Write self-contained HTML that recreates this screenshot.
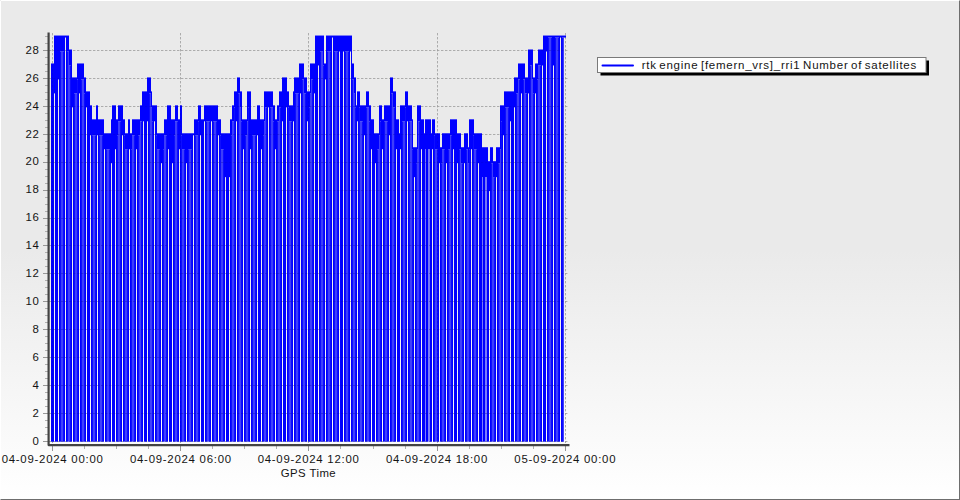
<!DOCTYPE html>
<html><head><meta charset="utf-8"><title>chart</title>
<style>
html,body{margin:0;padding:0;background:#fff;}
body{width:960px;height:500px;overflow:hidden;position:relative;font-family:"Liberation Sans",sans-serif;}
#bg{position:absolute;left:0;top:0;width:960px;height:500px;box-sizing:border-box;
 background:linear-gradient(to bottom,#eaeaea 0%,#eaeaea 50%,#ffffff 100%);
 border-top:1px solid #fff;border-left:1px solid #fff;border-right:1px solid #6e6e6e;border-bottom:1px solid #6e6e6e;}
svg{position:absolute;left:0;top:0;}
text{font-family:"Liberation Sans",sans-serif;font-size:11.4px;fill:#141414;letter-spacing:0.75px;}
.lg{letter-spacing:0px;font-size:11.5px;word-spacing:-1.3px;}
</style></head><body>
<div id="bg"></div><div style="position:absolute;left:0;top:0;width:1px;height:1px;background:#eee"></div>
<svg width="960" height="500" viewBox="0 0 960 500">
<g stroke="#bababa" stroke-width="1" stroke-dasharray="2.4 1.6" stroke-dashoffset="0" fill="none"><line x1="49" y1="441.5" x2="568" y2="441.5"/><line x1="49" y1="413.5" x2="568" y2="413.5"/><line x1="49" y1="385.5" x2="568" y2="385.5"/><line x1="49" y1="357.5" x2="568" y2="357.5"/><line x1="49" y1="329.5" x2="568" y2="329.5"/><line x1="49" y1="301.5" x2="568" y2="301.5"/><line x1="49" y1="273.5" x2="568" y2="273.5"/><line x1="49" y1="245.5" x2="568" y2="245.5"/><line x1="49" y1="218.5" x2="568" y2="218.5"/><line x1="49" y1="190.5" x2="568" y2="190.5"/><line x1="49" y1="162.5" x2="568" y2="162.5"/><line x1="49" y1="134.5" x2="568" y2="134.5"/><line x1="49" y1="106.5" x2="568" y2="106.5"/><line x1="49" y1="78.5" x2="568" y2="78.5"/><line x1="49" y1="50.5" x2="568" y2="50.5"/><line x1="52.5" y1="33" x2="52.5" y2="443"/><line x1="180.5" y1="33" x2="180.5" y2="443"/><line x1="308.5" y1="33" x2="308.5" y2="443"/><line x1="437.5" y1="33" x2="437.5" y2="443"/><line x1="565.5" y1="33" x2="565.5" y2="443"/></g>
<g id="series"><rect x="51" y="63.46" width="3" height="378.24" fill="#0000ff"/><rect x="54" y="35.54" width="1" height="57.85" fill="#0000ff"/><rect x="55" y="35.54" width="3" height="406.16" fill="#0000ff"/><rect x="58" y="35.54" width="1" height="43.88" fill="#0000ff"/><rect x="59" y="35.54" width="1" height="406.16" fill="#0000ff"/><rect x="60" y="35.54" width="1" height="15.96" fill="#0000ff"/><rect x="60" y="51.50" width="1" height="390.20" fill="#0000ff" fill-opacity="0.94"/><rect x="61" y="35.54" width="1" height="15.96" fill="#0000ff"/><rect x="61" y="51.50" width="1" height="390.20" fill="#0000ff" fill-opacity="0.74"/><rect x="62" y="35.54" width="1" height="15.96" fill="#0000ff"/><rect x="62" y="51.50" width="1" height="390.20" fill="#0000ff" fill-opacity="0.74"/><rect x="63" y="35.54" width="1" height="15.96" fill="#0000ff"/><rect x="63" y="51.50" width="1" height="390.20" fill="#0000ff" fill-opacity="0.94"/><rect x="64" y="35.54" width="1" height="406.16" fill="#0000ff"/><rect x="65" y="35.54" width="1" height="2.00" fill="#0000ff"/><rect x="66" y="35.54" width="1" height="406.16" fill="#0000ff"/><rect x="67" y="35.54" width="1" height="15.96" fill="#0000ff"/><rect x="67" y="51.50" width="1" height="390.20" fill="#0000ff" fill-opacity="0.94"/><rect x="68" y="35.54" width="1" height="15.96" fill="#0000ff"/><rect x="68" y="51.50" width="1" height="390.20" fill="#0000ff" fill-opacity="0.74"/><rect x="69" y="49.50" width="1" height="15.96" fill="#0000ff"/><rect x="69" y="65.46" width="1" height="376.24" fill="#0000ff" fill-opacity="0.74"/><rect x="70" y="49.50" width="1" height="15.96" fill="#0000ff"/><rect x="70" y="65.46" width="1" height="376.24" fill="#0000ff" fill-opacity="0.94"/><rect x="71" y="49.50" width="1" height="392.20" fill="#0000ff"/><rect x="72" y="77.42" width="1" height="29.92" fill="#0000ff"/><rect x="73" y="77.42" width="1" height="364.28" fill="#0000ff"/><rect x="74" y="77.42" width="1" height="15.96" fill="#0000ff"/><rect x="74" y="93.38" width="1" height="348.32" fill="#0000ff" fill-opacity="0.94"/><rect x="75" y="77.42" width="1" height="15.96" fill="#0000ff"/><rect x="75" y="93.38" width="1" height="348.32" fill="#0000ff" fill-opacity="0.74"/><rect x="76" y="77.42" width="1" height="15.96" fill="#0000ff"/><rect x="76" y="93.38" width="1" height="348.32" fill="#0000ff" fill-opacity="0.74"/><rect x="77" y="63.46" width="1" height="15.96" fill="#0000ff"/><rect x="77" y="79.42" width="1" height="362.28" fill="#0000ff" fill-opacity="0.94"/><rect x="78" y="63.46" width="1" height="378.24" fill="#0000ff"/><rect x="79" y="63.46" width="1" height="29.92" fill="#0000ff"/><rect x="80" y="63.46" width="1" height="378.24" fill="#0000ff"/><rect x="81" y="63.46" width="1" height="15.96" fill="#0000ff"/><rect x="81" y="79.42" width="1" height="362.28" fill="#0000ff" fill-opacity="0.94"/><rect x="82" y="63.46" width="1" height="15.96" fill="#0000ff"/><rect x="82" y="79.42" width="1" height="362.28" fill="#0000ff" fill-opacity="0.74"/><rect x="83" y="63.46" width="1" height="15.96" fill="#0000ff"/><rect x="83" y="79.42" width="1" height="362.28" fill="#0000ff" fill-opacity="0.74"/><rect x="84" y="77.42" width="1" height="15.96" fill="#0000ff"/><rect x="84" y="93.38" width="1" height="348.32" fill="#0000ff" fill-opacity="0.94"/><rect x="85" y="77.42" width="1" height="364.28" fill="#0000ff"/><rect x="86" y="91.38" width="1" height="15.96" fill="#0000ff"/><rect x="87" y="91.38" width="3" height="350.32" fill="#0000ff"/><rect x="90" y="105.34" width="1" height="29.92" fill="#0000ff"/><rect x="91" y="105.34" width="1" height="336.36" fill="#0000ff"/><rect x="92" y="119.31" width="1" height="15.96" fill="#0000ff"/><rect x="92" y="135.27" width="1" height="306.43" fill="#0000ff" fill-opacity="0.94"/><rect x="93" y="119.31" width="1" height="15.96" fill="#0000ff"/><rect x="93" y="135.27" width="1" height="306.43" fill="#0000ff" fill-opacity="0.74"/><rect x="94" y="119.31" width="1" height="15.96" fill="#0000ff"/><rect x="94" y="135.27" width="1" height="306.43" fill="#0000ff" fill-opacity="0.74"/><rect x="95" y="119.31" width="1" height="15.96" fill="#0000ff"/><rect x="95" y="135.27" width="1" height="306.43" fill="#0000ff" fill-opacity="0.94"/><rect x="96" y="105.34" width="1" height="336.36" fill="#0000ff"/><rect x="97" y="105.34" width="1" height="29.92" fill="#0000ff"/><rect x="98" y="119.31" width="1" height="322.39" fill="#0000ff"/><rect x="99" y="119.31" width="1" height="15.96" fill="#0000ff"/><rect x="99" y="135.27" width="1" height="306.43" fill="#0000ff" fill-opacity="0.94"/><rect x="100" y="119.31" width="1" height="15.96" fill="#0000ff"/><rect x="100" y="135.27" width="1" height="306.43" fill="#0000ff" fill-opacity="0.74"/><rect x="101" y="119.31" width="1" height="15.96" fill="#0000ff"/><rect x="101" y="135.27" width="1" height="306.43" fill="#0000ff" fill-opacity="0.74"/><rect x="102" y="119.31" width="1" height="15.96" fill="#0000ff"/><rect x="102" y="135.27" width="1" height="306.43" fill="#0000ff" fill-opacity="0.94"/><rect x="103" y="119.31" width="1" height="322.39" fill="#0000ff"/><rect x="104" y="133.27" width="1" height="15.96" fill="#0000ff"/><rect x="105" y="133.27" width="1" height="308.43" fill="#0000ff"/><rect x="106" y="133.27" width="1" height="15.96" fill="#0000ff"/><rect x="106" y="149.23" width="1" height="292.47" fill="#0000ff" fill-opacity="0.94"/><rect x="107" y="133.27" width="1" height="15.96" fill="#0000ff"/><rect x="107" y="149.23" width="1" height="292.47" fill="#0000ff" fill-opacity="0.74"/><rect x="108" y="133.27" width="1" height="15.96" fill="#0000ff"/><rect x="108" y="149.23" width="1" height="292.47" fill="#0000ff" fill-opacity="0.74"/><rect x="109" y="133.27" width="1" height="15.96" fill="#0000ff"/><rect x="109" y="149.23" width="1" height="292.47" fill="#0000ff" fill-opacity="0.94"/><rect x="110" y="133.27" width="1" height="308.43" fill="#0000ff"/><rect x="111" y="119.31" width="1" height="43.88" fill="#0000ff"/><rect x="112" y="105.34" width="3" height="336.36" fill="#0000ff"/><rect x="115" y="105.34" width="1" height="43.88" fill="#0000ff"/><rect x="116" y="119.31" width="1" height="322.39" fill="#0000ff"/><rect x="117" y="119.31" width="1" height="15.96" fill="#0000ff"/><rect x="117" y="135.27" width="1" height="306.43" fill="#0000ff" fill-opacity="0.94"/><rect x="118" y="105.34" width="1" height="15.96" fill="#0000ff"/><rect x="118" y="121.31" width="1" height="320.39" fill="#0000ff" fill-opacity="0.74"/><rect x="119" y="105.34" width="1" height="15.96" fill="#0000ff"/><rect x="119" y="121.31" width="1" height="320.39" fill="#0000ff" fill-opacity="0.74"/><rect x="120" y="105.34" width="1" height="15.96" fill="#0000ff"/><rect x="120" y="121.31" width="1" height="320.39" fill="#0000ff" fill-opacity="0.94"/><rect x="121" y="105.34" width="1" height="336.36" fill="#0000ff"/><rect x="122" y="105.34" width="1" height="29.92" fill="#0000ff"/><rect x="123" y="119.31" width="1" height="322.39" fill="#0000ff"/><rect x="124" y="119.31" width="1" height="15.96" fill="#0000ff"/><rect x="124" y="135.27" width="1" height="306.43" fill="#0000ff" fill-opacity="0.94"/><rect x="125" y="133.27" width="1" height="15.96" fill="#0000ff"/><rect x="125" y="149.23" width="1" height="292.47" fill="#0000ff" fill-opacity="0.74"/><rect x="126" y="133.27" width="1" height="15.96" fill="#0000ff"/><rect x="126" y="149.23" width="1" height="292.47" fill="#0000ff" fill-opacity="0.74"/><rect x="127" y="133.27" width="1" height="15.96" fill="#0000ff"/><rect x="127" y="149.23" width="1" height="292.47" fill="#0000ff" fill-opacity="0.94"/><rect x="128" y="119.31" width="1" height="322.39" fill="#0000ff"/><rect x="129" y="119.31" width="1" height="29.92" fill="#0000ff"/><rect x="130" y="133.27" width="1" height="308.43" fill="#0000ff"/><rect x="131" y="133.27" width="1" height="15.96" fill="#0000ff"/><rect x="131" y="149.23" width="1" height="292.47" fill="#0000ff" fill-opacity="0.94"/><rect x="132" y="119.31" width="1" height="15.96" fill="#0000ff"/><rect x="132" y="135.27" width="1" height="306.43" fill="#0000ff" fill-opacity="0.74"/><rect x="133" y="119.31" width="1" height="15.96" fill="#0000ff"/><rect x="133" y="135.27" width="1" height="306.43" fill="#0000ff" fill-opacity="0.74"/><rect x="134" y="119.31" width="1" height="15.96" fill="#0000ff"/><rect x="134" y="135.27" width="1" height="306.43" fill="#0000ff" fill-opacity="0.94"/><rect x="135" y="119.31" width="1" height="322.39" fill="#0000ff"/><rect x="136" y="119.31" width="1" height="29.92" fill="#0000ff"/><rect x="137" y="119.31" width="1" height="322.39" fill="#0000ff"/><rect x="138" y="119.31" width="1" height="15.96" fill="#0000ff"/><rect x="138" y="135.27" width="1" height="306.43" fill="#0000ff" fill-opacity="0.94"/><rect x="139" y="119.31" width="1" height="15.96" fill="#0000ff"/><rect x="139" y="135.27" width="1" height="306.43" fill="#0000ff" fill-opacity="0.74"/><rect x="140" y="105.34" width="1" height="15.96" fill="#0000ff"/><rect x="140" y="121.31" width="1" height="320.39" fill="#0000ff" fill-opacity="0.74"/><rect x="141" y="105.34" width="1" height="15.96" fill="#0000ff"/><rect x="141" y="121.31" width="1" height="320.39" fill="#0000ff" fill-opacity="0.94"/><rect x="142" y="91.38" width="1" height="350.32" fill="#0000ff"/><rect x="143" y="91.38" width="1" height="29.92" fill="#0000ff"/><rect x="144" y="91.38" width="3" height="350.32" fill="#0000ff"/><rect x="147" y="77.42" width="1" height="43.88" fill="#0000ff"/><rect x="148" y="77.42" width="1" height="364.28" fill="#0000ff"/><rect x="149" y="77.42" width="1" height="15.96" fill="#0000ff"/><rect x="149" y="93.38" width="1" height="348.32" fill="#0000ff" fill-opacity="0.94"/><rect x="150" y="77.42" width="1" height="15.96" fill="#0000ff"/><rect x="150" y="93.38" width="1" height="348.32" fill="#0000ff" fill-opacity="0.74"/><rect x="151" y="91.38" width="1" height="15.96" fill="#0000ff"/><rect x="151" y="107.34" width="1" height="334.36" fill="#0000ff" fill-opacity="0.74"/><rect x="152" y="105.34" width="1" height="15.96" fill="#0000ff"/><rect x="152" y="121.31" width="1" height="320.39" fill="#0000ff" fill-opacity="0.94"/><rect x="153" y="105.34" width="1" height="336.36" fill="#0000ff"/><rect x="154" y="105.34" width="1" height="15.96" fill="#0000ff"/><rect x="155" y="105.34" width="1" height="336.36" fill="#0000ff"/><rect x="156" y="105.34" width="1" height="29.92" fill="#0000ff"/><rect x="156" y="135.27" width="1" height="306.43" fill="#0000ff" fill-opacity="0.94"/><rect x="157" y="133.27" width="1" height="15.96" fill="#0000ff"/><rect x="157" y="149.23" width="1" height="292.47" fill="#0000ff" fill-opacity="0.74"/><rect x="158" y="133.27" width="1" height="15.96" fill="#0000ff"/><rect x="158" y="149.23" width="1" height="292.47" fill="#0000ff" fill-opacity="0.74"/><rect x="159" y="133.27" width="1" height="15.96" fill="#0000ff"/><rect x="159" y="149.23" width="1" height="292.47" fill="#0000ff" fill-opacity="0.94"/><rect x="160" y="133.27" width="1" height="308.43" fill="#0000ff"/><rect x="161" y="133.27" width="1" height="29.92" fill="#0000ff"/><rect x="162" y="133.27" width="1" height="308.43" fill="#0000ff"/><rect x="163" y="133.27" width="1" height="15.96" fill="#0000ff"/><rect x="163" y="149.23" width="1" height="292.47" fill="#0000ff" fill-opacity="0.94"/><rect x="164" y="119.31" width="1" height="15.96" fill="#0000ff"/><rect x="164" y="135.27" width="1" height="306.43" fill="#0000ff" fill-opacity="0.74"/><rect x="165" y="119.31" width="1" height="15.96" fill="#0000ff"/><rect x="165" y="135.27" width="1" height="306.43" fill="#0000ff" fill-opacity="0.74"/><rect x="166" y="119.31" width="1" height="15.96" fill="#0000ff"/><rect x="166" y="135.27" width="1" height="306.43" fill="#0000ff" fill-opacity="0.94"/><rect x="167" y="105.34" width="1" height="336.36" fill="#0000ff"/><rect x="168" y="105.34" width="1" height="43.88" fill="#0000ff"/><rect x="169" y="105.34" width="2" height="336.36" fill="#0000ff"/><rect x="171" y="119.31" width="1" height="322.39" fill="#0000ff"/><rect x="172" y="119.31" width="1" height="43.88" fill="#0000ff"/><rect x="173" y="119.31" width="1" height="322.39" fill="#0000ff"/><rect x="174" y="119.31" width="1" height="15.96" fill="#0000ff"/><rect x="174" y="135.27" width="1" height="306.43" fill="#0000ff" fill-opacity="0.94"/><rect x="175" y="105.34" width="1" height="15.96" fill="#0000ff"/><rect x="175" y="121.31" width="1" height="320.39" fill="#0000ff" fill-opacity="0.74"/><rect x="176" y="105.34" width="1" height="15.96" fill="#0000ff"/><rect x="176" y="121.31" width="1" height="320.39" fill="#0000ff" fill-opacity="0.74"/><rect x="177" y="105.34" width="1" height="15.96" fill="#0000ff"/><rect x="177" y="121.31" width="1" height="320.39" fill="#0000ff" fill-opacity="0.94"/><rect x="178" y="119.31" width="1" height="322.39" fill="#0000ff"/><rect x="179" y="119.31" width="1" height="29.92" fill="#0000ff"/><rect x="180" y="105.34" width="1" height="336.36" fill="#0000ff"/><rect x="181" y="105.34" width="1" height="29.92" fill="#0000ff"/><rect x="181" y="135.27" width="1" height="306.43" fill="#0000ff" fill-opacity="0.94"/><rect x="182" y="133.27" width="1" height="15.96" fill="#0000ff"/><rect x="182" y="149.23" width="1" height="292.47" fill="#0000ff" fill-opacity="0.74"/><rect x="183" y="133.27" width="1" height="15.96" fill="#0000ff"/><rect x="183" y="149.23" width="1" height="292.47" fill="#0000ff" fill-opacity="0.74"/><rect x="184" y="133.27" width="1" height="15.96" fill="#0000ff"/><rect x="184" y="149.23" width="1" height="292.47" fill="#0000ff" fill-opacity="0.94"/><rect x="185" y="133.27" width="1" height="308.43" fill="#0000ff"/><rect x="186" y="133.27" width="1" height="29.92" fill="#0000ff"/><rect x="187" y="133.27" width="1" height="308.43" fill="#0000ff"/><rect x="188" y="133.27" width="1" height="15.96" fill="#0000ff"/><rect x="188" y="149.23" width="1" height="292.47" fill="#0000ff" fill-opacity="0.94"/><rect x="189" y="133.27" width="1" height="15.96" fill="#0000ff"/><rect x="189" y="149.23" width="1" height="292.47" fill="#0000ff" fill-opacity="0.74"/><rect x="190" y="133.27" width="1" height="15.96" fill="#0000ff"/><rect x="190" y="149.23" width="1" height="292.47" fill="#0000ff" fill-opacity="0.74"/><rect x="191" y="133.27" width="1" height="15.96" fill="#0000ff"/><rect x="191" y="149.23" width="1" height="292.47" fill="#0000ff" fill-opacity="0.94"/><rect x="192" y="133.27" width="1" height="308.43" fill="#0000ff"/><rect x="193" y="133.27" width="1" height="2.00" fill="#0000ff"/><rect x="194" y="119.31" width="1" height="322.39" fill="#0000ff"/><rect x="195" y="119.31" width="1" height="15.96" fill="#0000ff"/><rect x="195" y="135.27" width="1" height="306.43" fill="#0000ff" fill-opacity="0.94"/><rect x="196" y="119.31" width="1" height="15.96" fill="#0000ff"/><rect x="196" y="135.27" width="1" height="306.43" fill="#0000ff" fill-opacity="0.74"/><rect x="197" y="119.31" width="1" height="15.96" fill="#0000ff"/><rect x="197" y="135.27" width="1" height="306.43" fill="#0000ff" fill-opacity="0.74"/><rect x="198" y="105.34" width="1" height="15.96" fill="#0000ff"/><rect x="198" y="121.31" width="1" height="320.39" fill="#0000ff" fill-opacity="0.94"/><rect x="199" y="105.34" width="1" height="336.36" fill="#0000ff"/><rect x="200" y="105.34" width="1" height="29.92" fill="#0000ff"/><rect x="201" y="119.31" width="3" height="322.39" fill="#0000ff"/><rect x="204" y="105.34" width="1" height="15.96" fill="#0000ff"/><rect x="205" y="105.34" width="1" height="336.36" fill="#0000ff"/><rect x="206" y="105.34" width="1" height="15.96" fill="#0000ff"/><rect x="206" y="121.31" width="1" height="320.39" fill="#0000ff" fill-opacity="0.94"/><rect x="207" y="105.34" width="1" height="15.96" fill="#0000ff"/><rect x="207" y="121.31" width="1" height="320.39" fill="#0000ff" fill-opacity="0.74"/><rect x="208" y="105.34" width="1" height="15.96" fill="#0000ff"/><rect x="208" y="121.31" width="1" height="320.39" fill="#0000ff" fill-opacity="0.74"/><rect x="209" y="105.34" width="1" height="15.96" fill="#0000ff"/><rect x="209" y="121.31" width="1" height="320.39" fill="#0000ff" fill-opacity="0.94"/><rect x="210" y="105.34" width="1" height="336.36" fill="#0000ff"/><rect x="211" y="105.34" width="1" height="15.96" fill="#0000ff"/><rect x="212" y="105.34" width="1" height="336.36" fill="#0000ff"/><rect x="213" y="105.34" width="1" height="15.96" fill="#0000ff"/><rect x="213" y="121.31" width="1" height="320.39" fill="#0000ff" fill-opacity="0.94"/><rect x="214" y="105.34" width="1" height="15.96" fill="#0000ff"/><rect x="214" y="121.31" width="1" height="320.39" fill="#0000ff" fill-opacity="0.74"/><rect x="215" y="105.34" width="1" height="15.96" fill="#0000ff"/><rect x="215" y="121.31" width="1" height="320.39" fill="#0000ff" fill-opacity="0.74"/><rect x="216" y="105.34" width="1" height="15.96" fill="#0000ff"/><rect x="216" y="121.31" width="1" height="320.39" fill="#0000ff" fill-opacity="0.94"/><rect x="217" y="105.34" width="1" height="336.36" fill="#0000ff"/><rect x="218" y="119.31" width="1" height="15.96" fill="#0000ff"/><rect x="219" y="119.31" width="1" height="322.39" fill="#0000ff"/><rect x="220" y="119.31" width="1" height="15.96" fill="#0000ff"/><rect x="220" y="135.27" width="1" height="306.43" fill="#0000ff" fill-opacity="0.94"/><rect x="221" y="133.27" width="1" height="15.96" fill="#0000ff"/><rect x="221" y="149.23" width="1" height="292.47" fill="#0000ff" fill-opacity="0.74"/><rect x="222" y="133.27" width="1" height="15.96" fill="#0000ff"/><rect x="222" y="149.23" width="1" height="292.47" fill="#0000ff" fill-opacity="0.74"/><rect x="223" y="133.27" width="1" height="15.96" fill="#0000ff"/><rect x="223" y="149.23" width="1" height="292.47" fill="#0000ff" fill-opacity="0.94"/><rect x="224" y="133.27" width="1" height="308.43" fill="#0000ff"/><rect x="225" y="133.27" width="1" height="43.88" fill="#0000ff"/><rect x="226" y="133.27" width="3" height="308.43" fill="#0000ff"/><rect x="229" y="133.27" width="1" height="43.88" fill="#0000ff"/><rect x="230" y="119.31" width="1" height="322.39" fill="#0000ff"/><rect x="231" y="119.31" width="1" height="15.96" fill="#0000ff"/><rect x="231" y="135.27" width="1" height="306.43" fill="#0000ff" fill-opacity="0.94"/><rect x="232" y="105.34" width="1" height="15.96" fill="#0000ff"/><rect x="232" y="121.31" width="1" height="320.39" fill="#0000ff" fill-opacity="0.74"/><rect x="233" y="105.34" width="1" height="15.96" fill="#0000ff"/><rect x="233" y="121.31" width="1" height="320.39" fill="#0000ff" fill-opacity="0.74"/><rect x="234" y="91.38" width="1" height="15.96" fill="#0000ff"/><rect x="234" y="107.34" width="1" height="334.36" fill="#0000ff" fill-opacity="0.94"/><rect x="235" y="91.38" width="1" height="350.32" fill="#0000ff"/><rect x="236" y="91.38" width="1" height="29.92" fill="#0000ff"/><rect x="237" y="77.42" width="1" height="364.28" fill="#0000ff"/><rect x="238" y="77.42" width="1" height="15.96" fill="#0000ff"/><rect x="238" y="93.38" width="1" height="348.32" fill="#0000ff" fill-opacity="0.94"/><rect x="239" y="77.42" width="1" height="15.96" fill="#0000ff"/><rect x="239" y="93.38" width="1" height="348.32" fill="#0000ff" fill-opacity="0.74"/><rect x="240" y="91.38" width="1" height="15.96" fill="#0000ff"/><rect x="240" y="107.34" width="1" height="334.36" fill="#0000ff" fill-opacity="0.74"/><rect x="241" y="91.38" width="1" height="29.92" fill="#0000ff"/><rect x="241" y="121.31" width="1" height="320.39" fill="#0000ff" fill-opacity="0.94"/><rect x="242" y="119.31" width="1" height="322.39" fill="#0000ff"/><rect x="243" y="119.31" width="1" height="29.92" fill="#0000ff"/><rect x="244" y="119.31" width="1" height="322.39" fill="#0000ff"/><rect x="245" y="119.31" width="1" height="15.96" fill="#0000ff"/><rect x="245" y="135.27" width="1" height="306.43" fill="#0000ff" fill-opacity="0.94"/><rect x="246" y="119.31" width="1" height="15.96" fill="#0000ff"/><rect x="246" y="135.27" width="1" height="306.43" fill="#0000ff" fill-opacity="0.74"/><rect x="247" y="91.38" width="1" height="29.92" fill="#0000ff"/><rect x="247" y="121.31" width="1" height="320.39" fill="#0000ff" fill-opacity="0.74"/><rect x="248" y="91.38" width="1" height="15.96" fill="#0000ff"/><rect x="248" y="107.34" width="1" height="334.36" fill="#0000ff" fill-opacity="0.94"/><rect x="249" y="91.38" width="1" height="350.32" fill="#0000ff"/><rect x="250" y="91.38" width="1" height="57.85" fill="#0000ff"/><rect x="251" y="119.31" width="1" height="322.39" fill="#0000ff"/><rect x="252" y="119.31" width="1" height="15.96" fill="#0000ff"/><rect x="252" y="135.27" width="1" height="306.43" fill="#0000ff" fill-opacity="0.94"/><rect x="253" y="119.31" width="1" height="15.96" fill="#0000ff"/><rect x="253" y="135.27" width="1" height="306.43" fill="#0000ff" fill-opacity="0.74"/><rect x="254" y="119.31" width="1" height="15.96" fill="#0000ff"/><rect x="254" y="135.27" width="1" height="306.43" fill="#0000ff" fill-opacity="0.74"/><rect x="255" y="119.31" width="1" height="15.96" fill="#0000ff"/><rect x="255" y="135.27" width="1" height="306.43" fill="#0000ff" fill-opacity="0.94"/><rect x="256" y="119.31" width="1" height="322.39" fill="#0000ff"/><rect x="257" y="105.34" width="1" height="29.92" fill="#0000ff"/><rect x="258" y="105.34" width="2" height="336.36" fill="#0000ff"/><rect x="260" y="119.31" width="1" height="322.39" fill="#0000ff"/><rect x="261" y="119.31" width="1" height="29.92" fill="#0000ff"/><rect x="262" y="119.31" width="1" height="322.39" fill="#0000ff"/><rect x="263" y="119.31" width="1" height="15.96" fill="#0000ff"/><rect x="263" y="135.27" width="1" height="306.43" fill="#0000ff" fill-opacity="0.94"/><rect x="264" y="91.38" width="1" height="29.92" fill="#0000ff"/><rect x="264" y="121.31" width="1" height="320.39" fill="#0000ff" fill-opacity="0.74"/><rect x="265" y="91.38" width="1" height="15.96" fill="#0000ff"/><rect x="265" y="107.34" width="1" height="334.36" fill="#0000ff" fill-opacity="0.74"/><rect x="266" y="91.38" width="1" height="15.96" fill="#0000ff"/><rect x="266" y="107.34" width="1" height="334.36" fill="#0000ff" fill-opacity="0.94"/><rect x="267" y="91.38" width="1" height="350.32" fill="#0000ff"/><rect x="268" y="91.38" width="1" height="15.96" fill="#0000ff"/><rect x="269" y="91.38" width="1" height="350.32" fill="#0000ff"/><rect x="270" y="91.38" width="1" height="15.96" fill="#0000ff"/><rect x="270" y="107.34" width="1" height="334.36" fill="#0000ff" fill-opacity="0.94"/><rect x="271" y="91.38" width="1" height="15.96" fill="#0000ff"/><rect x="271" y="107.34" width="1" height="334.36" fill="#0000ff" fill-opacity="0.74"/><rect x="272" y="91.38" width="1" height="15.96" fill="#0000ff"/><rect x="272" y="107.34" width="1" height="334.36" fill="#0000ff" fill-opacity="0.74"/><rect x="273" y="105.34" width="1" height="15.96" fill="#0000ff"/><rect x="273" y="121.31" width="1" height="320.39" fill="#0000ff" fill-opacity="0.94"/><rect x="274" y="105.34" width="1" height="336.36" fill="#0000ff"/><rect x="275" y="119.31" width="1" height="29.92" fill="#0000ff"/><rect x="276" y="119.31" width="1" height="322.39" fill="#0000ff"/><rect x="277" y="105.34" width="1" height="15.96" fill="#0000ff"/><rect x="277" y="121.31" width="1" height="320.39" fill="#0000ff" fill-opacity="0.94"/><rect x="278" y="105.34" width="1" height="15.96" fill="#0000ff"/><rect x="278" y="121.31" width="1" height="320.39" fill="#0000ff" fill-opacity="0.74"/><rect x="279" y="91.38" width="1" height="15.96" fill="#0000ff"/><rect x="279" y="107.34" width="1" height="334.36" fill="#0000ff" fill-opacity="0.74"/><rect x="280" y="91.38" width="1" height="15.96" fill="#0000ff"/><rect x="280" y="107.34" width="1" height="334.36" fill="#0000ff" fill-opacity="0.94"/><rect x="281" y="91.38" width="1" height="350.32" fill="#0000ff"/><rect x="282" y="77.42" width="1" height="43.88" fill="#0000ff"/><rect x="283" y="77.42" width="3" height="364.28" fill="#0000ff"/><rect x="286" y="77.42" width="1" height="29.92" fill="#0000ff"/><rect x="287" y="91.38" width="1" height="350.32" fill="#0000ff"/><rect x="288" y="91.38" width="1" height="15.96" fill="#0000ff"/><rect x="288" y="107.34" width="1" height="334.36" fill="#0000ff" fill-opacity="0.94"/><rect x="289" y="105.34" width="1" height="15.96" fill="#0000ff"/><rect x="289" y="121.31" width="1" height="320.39" fill="#0000ff" fill-opacity="0.74"/><rect x="290" y="105.34" width="1" height="15.96" fill="#0000ff"/><rect x="290" y="121.31" width="1" height="320.39" fill="#0000ff" fill-opacity="0.74"/><rect x="291" y="105.34" width="1" height="15.96" fill="#0000ff"/><rect x="291" y="121.31" width="1" height="320.39" fill="#0000ff" fill-opacity="0.94"/><rect x="292" y="105.34" width="1" height="336.36" fill="#0000ff"/><rect x="293" y="91.38" width="1" height="29.92" fill="#0000ff"/><rect x="294" y="77.42" width="1" height="364.28" fill="#0000ff"/><rect x="295" y="77.42" width="1" height="15.96" fill="#0000ff"/><rect x="295" y="93.38" width="1" height="348.32" fill="#0000ff" fill-opacity="0.94"/><rect x="296" y="77.42" width="1" height="15.96" fill="#0000ff"/><rect x="296" y="93.38" width="1" height="348.32" fill="#0000ff" fill-opacity="0.74"/><rect x="297" y="77.42" width="1" height="15.96" fill="#0000ff"/><rect x="297" y="93.38" width="1" height="348.32" fill="#0000ff" fill-opacity="0.74"/><rect x="298" y="77.42" width="1" height="15.96" fill="#0000ff"/><rect x="298" y="93.38" width="1" height="348.32" fill="#0000ff" fill-opacity="0.94"/><rect x="299" y="63.46" width="1" height="378.24" fill="#0000ff"/><rect x="300" y="63.46" width="1" height="29.92" fill="#0000ff"/><rect x="301" y="63.46" width="1" height="378.24" fill="#0000ff"/><rect x="302" y="63.46" width="1" height="15.96" fill="#0000ff"/><rect x="302" y="79.42" width="1" height="362.28" fill="#0000ff" fill-opacity="0.94"/><rect x="303" y="63.46" width="1" height="15.96" fill="#0000ff"/><rect x="303" y="79.42" width="1" height="362.28" fill="#0000ff" fill-opacity="0.74"/><rect x="304" y="77.42" width="1" height="15.96" fill="#0000ff"/><rect x="304" y="93.38" width="1" height="348.32" fill="#0000ff" fill-opacity="0.74"/><rect x="305" y="77.42" width="1" height="15.96" fill="#0000ff"/><rect x="305" y="93.38" width="1" height="348.32" fill="#0000ff" fill-opacity="0.94"/><rect x="306" y="77.42" width="1" height="364.28" fill="#0000ff"/><rect x="307" y="91.38" width="1" height="29.92" fill="#0000ff"/><rect x="308" y="91.38" width="1" height="350.32" fill="#0000ff"/><rect x="309" y="91.38" width="1" height="15.96" fill="#0000ff"/><rect x="309" y="107.34" width="1" height="334.36" fill="#0000ff" fill-opacity="0.94"/><rect x="310" y="63.46" width="1" height="29.92" fill="#0000ff"/><rect x="310" y="93.38" width="1" height="348.32" fill="#0000ff" fill-opacity="0.74"/><rect x="311" y="63.46" width="1" height="15.96" fill="#0000ff"/><rect x="311" y="79.42" width="1" height="362.28" fill="#0000ff" fill-opacity="0.74"/><rect x="312" y="63.46" width="1" height="15.96" fill="#0000ff"/><rect x="312" y="79.42" width="1" height="362.28" fill="#0000ff" fill-opacity="0.94"/><rect x="313" y="63.46" width="1" height="378.24" fill="#0000ff"/><rect x="314" y="63.46" width="1" height="29.92" fill="#0000ff"/><rect x="315" y="35.54" width="3" height="406.16" fill="#0000ff"/><rect x="318" y="35.54" width="1" height="29.92" fill="#0000ff"/><rect x="319" y="35.54" width="1" height="406.16" fill="#0000ff"/><rect x="320" y="35.54" width="1" height="15.96" fill="#0000ff"/><rect x="320" y="51.50" width="1" height="390.20" fill="#0000ff" fill-opacity="0.94"/><rect x="321" y="35.54" width="1" height="15.96" fill="#0000ff"/><rect x="321" y="51.50" width="1" height="390.20" fill="#0000ff" fill-opacity="0.74"/><rect x="322" y="35.54" width="1" height="15.96" fill="#0000ff"/><rect x="322" y="51.50" width="1" height="390.20" fill="#0000ff" fill-opacity="0.74"/><rect x="323" y="35.54" width="1" height="29.92" fill="#0000ff"/><rect x="323" y="65.46" width="1" height="376.24" fill="#0000ff" fill-opacity="0.94"/><rect x="324" y="63.46" width="1" height="378.24" fill="#0000ff"/><rect x="325" y="63.46" width="1" height="15.96" fill="#0000ff"/><rect x="326" y="35.54" width="1" height="406.16" fill="#0000ff"/><rect x="327" y="35.54" width="1" height="15.96" fill="#0000ff"/><rect x="327" y="51.50" width="1" height="390.20" fill="#0000ff" fill-opacity="0.94"/><rect x="328" y="35.54" width="1" height="15.96" fill="#0000ff"/><rect x="328" y="51.50" width="1" height="390.20" fill="#0000ff" fill-opacity="0.74"/><rect x="329" y="35.54" width="1" height="15.96" fill="#0000ff"/><rect x="329" y="51.50" width="1" height="390.20" fill="#0000ff" fill-opacity="0.74"/><rect x="330" y="35.54" width="1" height="15.96" fill="#0000ff"/><rect x="330" y="51.50" width="1" height="390.20" fill="#0000ff" fill-opacity="0.94"/><rect x="331" y="35.54" width="1" height="406.16" fill="#0000ff"/><rect x="332" y="35.54" width="1" height="2.00" fill="#0000ff"/><rect x="333" y="35.54" width="1" height="406.16" fill="#0000ff"/><rect x="334" y="35.54" width="1" height="15.96" fill="#0000ff"/><rect x="334" y="51.50" width="1" height="390.20" fill="#0000ff" fill-opacity="0.94"/><rect x="335" y="35.54" width="1" height="15.96" fill="#0000ff"/><rect x="335" y="51.50" width="1" height="390.20" fill="#0000ff" fill-opacity="0.74"/><rect x="336" y="35.54" width="1" height="15.96" fill="#0000ff"/><rect x="336" y="51.50" width="1" height="390.20" fill="#0000ff" fill-opacity="0.74"/><rect x="337" y="35.54" width="1" height="15.96" fill="#0000ff"/><rect x="337" y="51.50" width="1" height="390.20" fill="#0000ff" fill-opacity="0.94"/><rect x="338" y="35.54" width="1" height="406.16" fill="#0000ff"/><rect x="339" y="35.54" width="1" height="15.96" fill="#0000ff"/><rect x="340" y="35.54" width="3" height="406.16" fill="#0000ff"/><rect x="343" y="35.54" width="1" height="15.96" fill="#0000ff"/><rect x="344" y="35.54" width="1" height="406.16" fill="#0000ff"/><rect x="345" y="35.54" width="1" height="15.96" fill="#0000ff"/><rect x="345" y="51.50" width="1" height="390.20" fill="#0000ff" fill-opacity="0.94"/><rect x="346" y="35.54" width="1" height="15.96" fill="#0000ff"/><rect x="346" y="51.50" width="1" height="390.20" fill="#0000ff" fill-opacity="0.74"/><rect x="347" y="35.54" width="1" height="15.96" fill="#0000ff"/><rect x="347" y="51.50" width="1" height="390.20" fill="#0000ff" fill-opacity="0.74"/><rect x="348" y="35.54" width="1" height="15.96" fill="#0000ff"/><rect x="348" y="51.50" width="1" height="390.20" fill="#0000ff" fill-opacity="0.94"/><rect x="349" y="35.54" width="1" height="406.16" fill="#0000ff"/><rect x="350" y="35.54" width="1" height="15.96" fill="#0000ff"/><rect x="351" y="35.54" width="1" height="406.16" fill="#0000ff"/><rect x="352" y="63.46" width="1" height="15.96" fill="#0000ff"/><rect x="352" y="79.42" width="1" height="362.28" fill="#0000ff" fill-opacity="0.94"/><rect x="353" y="63.46" width="1" height="15.96" fill="#0000ff"/><rect x="353" y="79.42" width="1" height="362.28" fill="#0000ff" fill-opacity="0.74"/><rect x="354" y="77.42" width="1" height="15.96" fill="#0000ff"/><rect x="354" y="93.38" width="1" height="348.32" fill="#0000ff" fill-opacity="0.74"/><rect x="355" y="77.42" width="1" height="29.92" fill="#0000ff"/><rect x="355" y="107.34" width="1" height="334.36" fill="#0000ff" fill-opacity="0.94"/><rect x="356" y="105.34" width="1" height="336.36" fill="#0000ff"/><rect x="357" y="91.38" width="1" height="29.92" fill="#0000ff"/><rect x="358" y="91.38" width="1" height="350.32" fill="#0000ff"/><rect x="359" y="91.38" width="1" height="15.96" fill="#0000ff"/><rect x="359" y="107.34" width="1" height="334.36" fill="#0000ff" fill-opacity="0.94"/><rect x="360" y="105.34" width="1" height="15.96" fill="#0000ff"/><rect x="360" y="121.31" width="1" height="320.39" fill="#0000ff" fill-opacity="0.74"/><rect x="361" y="105.34" width="1" height="15.96" fill="#0000ff"/><rect x="361" y="121.31" width="1" height="320.39" fill="#0000ff" fill-opacity="0.74"/><rect x="362" y="105.34" width="1" height="15.96" fill="#0000ff"/><rect x="362" y="121.31" width="1" height="320.39" fill="#0000ff" fill-opacity="0.94"/><rect x="363" y="105.34" width="1" height="336.36" fill="#0000ff"/><rect x="364" y="105.34" width="1" height="29.92" fill="#0000ff"/><rect x="365" y="105.34" width="1" height="336.36" fill="#0000ff"/><rect x="366" y="91.38" width="1" height="15.96" fill="#0000ff"/><rect x="366" y="107.34" width="1" height="334.36" fill="#0000ff" fill-opacity="0.94"/><rect x="367" y="91.38" width="1" height="15.96" fill="#0000ff"/><rect x="367" y="107.34" width="1" height="334.36" fill="#0000ff" fill-opacity="0.74"/><rect x="368" y="91.38" width="1" height="15.96" fill="#0000ff"/><rect x="368" y="107.34" width="1" height="334.36" fill="#0000ff" fill-opacity="0.74"/><rect x="369" y="105.34" width="1" height="15.96" fill="#0000ff"/><rect x="369" y="121.31" width="1" height="320.39" fill="#0000ff" fill-opacity="0.94"/><rect x="370" y="105.34" width="1" height="336.36" fill="#0000ff"/><rect x="371" y="119.31" width="1" height="29.92" fill="#0000ff"/><rect x="372" y="119.31" width="2" height="322.39" fill="#0000ff"/><rect x="374" y="133.27" width="1" height="308.43" fill="#0000ff"/><rect x="375" y="133.27" width="1" height="29.92" fill="#0000ff"/><rect x="376" y="133.27" width="1" height="308.43" fill="#0000ff"/><rect x="377" y="133.27" width="1" height="15.96" fill="#0000ff"/><rect x="377" y="149.23" width="1" height="292.47" fill="#0000ff" fill-opacity="0.94"/><rect x="378" y="133.27" width="1" height="15.96" fill="#0000ff"/><rect x="378" y="149.23" width="1" height="292.47" fill="#0000ff" fill-opacity="0.74"/><rect x="379" y="105.34" width="1" height="29.92" fill="#0000ff"/><rect x="379" y="135.27" width="1" height="306.43" fill="#0000ff" fill-opacity="0.74"/><rect x="380" y="105.34" width="1" height="15.96" fill="#0000ff"/><rect x="380" y="121.31" width="1" height="320.39" fill="#0000ff" fill-opacity="0.94"/><rect x="381" y="105.34" width="1" height="336.36" fill="#0000ff"/><rect x="382" y="119.31" width="1" height="29.92" fill="#0000ff"/><rect x="383" y="119.31" width="1" height="322.39" fill="#0000ff"/><rect x="384" y="105.34" width="1" height="15.96" fill="#0000ff"/><rect x="384" y="121.31" width="1" height="320.39" fill="#0000ff" fill-opacity="0.94"/><rect x="385" y="105.34" width="1" height="15.96" fill="#0000ff"/><rect x="385" y="121.31" width="1" height="320.39" fill="#0000ff" fill-opacity="0.74"/><rect x="386" y="105.34" width="1" height="15.96" fill="#0000ff"/><rect x="386" y="121.31" width="1" height="320.39" fill="#0000ff" fill-opacity="0.74"/><rect x="387" y="105.34" width="1" height="15.96" fill="#0000ff"/><rect x="387" y="121.31" width="1" height="320.39" fill="#0000ff" fill-opacity="0.94"/><rect x="388" y="105.34" width="1" height="336.36" fill="#0000ff"/><rect x="389" y="105.34" width="1" height="29.92" fill="#0000ff"/><rect x="390" y="77.42" width="1" height="364.28" fill="#0000ff"/><rect x="391" y="77.42" width="1" height="15.96" fill="#0000ff"/><rect x="391" y="93.38" width="1" height="348.32" fill="#0000ff" fill-opacity="0.94"/><rect x="392" y="77.42" width="1" height="15.96" fill="#0000ff"/><rect x="392" y="93.38" width="1" height="348.32" fill="#0000ff" fill-opacity="0.74"/><rect x="393" y="91.38" width="1" height="15.96" fill="#0000ff"/><rect x="393" y="107.34" width="1" height="334.36" fill="#0000ff" fill-opacity="0.74"/><rect x="394" y="91.38" width="1" height="15.96" fill="#0000ff"/><rect x="394" y="107.34" width="1" height="334.36" fill="#0000ff" fill-opacity="0.94"/><rect x="395" y="91.38" width="1" height="350.32" fill="#0000ff"/><rect x="396" y="119.31" width="1" height="29.92" fill="#0000ff"/><rect x="397" y="119.31" width="2" height="322.39" fill="#0000ff"/><rect x="399" y="133.27" width="1" height="308.43" fill="#0000ff"/><rect x="400" y="105.34" width="1" height="43.88" fill="#0000ff"/><rect x="401" y="105.34" width="1" height="336.36" fill="#0000ff"/><rect x="402" y="105.34" width="1" height="15.96" fill="#0000ff"/><rect x="402" y="121.31" width="1" height="320.39" fill="#0000ff" fill-opacity="0.94"/><rect x="403" y="105.34" width="1" height="15.96" fill="#0000ff"/><rect x="403" y="121.31" width="1" height="320.39" fill="#0000ff" fill-opacity="0.74"/><rect x="404" y="105.34" width="1" height="15.96" fill="#0000ff"/><rect x="404" y="121.31" width="1" height="320.39" fill="#0000ff" fill-opacity="0.74"/><rect x="405" y="91.38" width="1" height="15.96" fill="#0000ff"/><rect x="405" y="107.34" width="1" height="334.36" fill="#0000ff" fill-opacity="0.94"/><rect x="406" y="91.38" width="1" height="350.32" fill="#0000ff"/><rect x="407" y="91.38" width="1" height="29.92" fill="#0000ff"/><rect x="408" y="105.34" width="1" height="336.36" fill="#0000ff"/><rect x="409" y="105.34" width="1" height="15.96" fill="#0000ff"/><rect x="409" y="121.31" width="1" height="320.39" fill="#0000ff" fill-opacity="0.94"/><rect x="410" y="105.34" width="1" height="15.96" fill="#0000ff"/><rect x="410" y="121.31" width="1" height="320.39" fill="#0000ff" fill-opacity="0.74"/><rect x="411" y="105.34" width="1" height="15.96" fill="#0000ff"/><rect x="411" y="121.31" width="1" height="320.39" fill="#0000ff" fill-opacity="0.74"/><rect x="412" y="119.31" width="1" height="29.92" fill="#0000ff"/><rect x="412" y="149.23" width="1" height="292.47" fill="#0000ff" fill-opacity="0.94"/><rect x="413" y="147.23" width="1" height="294.47" fill="#0000ff"/><rect x="414" y="147.23" width="1" height="29.92" fill="#0000ff"/><rect x="415" y="147.23" width="1" height="294.47" fill="#0000ff"/><rect x="416" y="147.23" width="1" height="15.96" fill="#0000ff"/><rect x="416" y="163.19" width="1" height="278.51" fill="#0000ff" fill-opacity="0.94"/><rect x="417" y="105.34" width="1" height="43.88" fill="#0000ff"/><rect x="417" y="149.23" width="1" height="292.47" fill="#0000ff" fill-opacity="0.74"/><rect x="418" y="105.34" width="1" height="15.96" fill="#0000ff"/><rect x="418" y="121.31" width="1" height="320.39" fill="#0000ff" fill-opacity="0.74"/><rect x="419" y="105.34" width="1" height="15.96" fill="#0000ff"/><rect x="419" y="121.31" width="1" height="320.39" fill="#0000ff" fill-opacity="0.94"/><rect x="420" y="105.34" width="1" height="336.36" fill="#0000ff"/><rect x="421" y="119.31" width="1" height="29.92" fill="#0000ff"/><rect x="422" y="119.31" width="2" height="322.39" fill="#0000ff"/><rect x="424" y="133.27" width="1" height="308.43" fill="#0000ff"/><rect x="425" y="119.31" width="1" height="29.92" fill="#0000ff"/><rect x="425" y="149.23" width="1" height="292.47" fill="#0000ff" fill-opacity="0.50"/><rect x="426" y="119.31" width="2" height="322.39" fill="#0000ff"/><rect x="428" y="119.31" width="1" height="29.92" fill="#0000ff"/><rect x="428" y="149.23" width="1" height="292.47" fill="#0000ff" fill-opacity="0.50"/><rect x="429" y="119.31" width="1" height="29.92" fill="#0000ff"/><rect x="429" y="149.23" width="1" height="292.47" fill="#0000ff" fill-opacity="0.50"/><rect x="430" y="119.31" width="1" height="322.39" fill="#0000ff"/><rect x="431" y="133.27" width="1" height="308.43" fill="#0000ff"/><rect x="432" y="119.31" width="1" height="29.92" fill="#0000ff"/><rect x="433" y="119.31" width="1" height="322.39" fill="#0000ff"/><rect x="434" y="119.31" width="1" height="15.96" fill="#0000ff"/><rect x="434" y="135.27" width="1" height="306.43" fill="#0000ff" fill-opacity="0.94"/><rect x="435" y="133.27" width="1" height="15.96" fill="#0000ff"/><rect x="435" y="149.23" width="1" height="292.47" fill="#0000ff" fill-opacity="0.74"/><rect x="436" y="133.27" width="1" height="15.96" fill="#0000ff"/><rect x="436" y="149.23" width="1" height="292.47" fill="#0000ff" fill-opacity="0.74"/><rect x="437" y="133.27" width="1" height="15.96" fill="#0000ff"/><rect x="437" y="149.23" width="1" height="292.47" fill="#0000ff" fill-opacity="0.94"/><rect x="438" y="133.27" width="1" height="308.43" fill="#0000ff"/><rect x="439" y="133.27" width="1" height="29.92" fill="#0000ff"/><rect x="440" y="147.23" width="1" height="294.47" fill="#0000ff"/><rect x="441" y="147.23" width="1" height="15.96" fill="#0000ff"/><rect x="441" y="163.19" width="1" height="278.51" fill="#0000ff" fill-opacity="0.94"/><rect x="442" y="133.27" width="1" height="15.96" fill="#0000ff"/><rect x="442" y="149.23" width="1" height="292.47" fill="#0000ff" fill-opacity="0.74"/><rect x="443" y="133.27" width="1" height="15.96" fill="#0000ff"/><rect x="443" y="149.23" width="1" height="292.47" fill="#0000ff" fill-opacity="0.74"/><rect x="444" y="133.27" width="1" height="15.96" fill="#0000ff"/><rect x="444" y="149.23" width="1" height="292.47" fill="#0000ff" fill-opacity="0.94"/><rect x="445" y="133.27" width="1" height="308.43" fill="#0000ff"/><rect x="446" y="133.27" width="1" height="29.92" fill="#0000ff"/><rect x="447" y="133.27" width="1" height="308.43" fill="#0000ff"/><rect x="448" y="133.27" width="1" height="15.96" fill="#0000ff"/><rect x="448" y="149.23" width="1" height="292.47" fill="#0000ff" fill-opacity="0.94"/><rect x="449" y="133.27" width="1" height="15.96" fill="#0000ff"/><rect x="449" y="149.23" width="1" height="292.47" fill="#0000ff" fill-opacity="0.74"/><rect x="450" y="119.31" width="1" height="15.96" fill="#0000ff"/><rect x="450" y="135.27" width="1" height="306.43" fill="#0000ff" fill-opacity="0.74"/><rect x="451" y="119.31" width="1" height="15.96" fill="#0000ff"/><rect x="451" y="135.27" width="1" height="306.43" fill="#0000ff" fill-opacity="0.94"/><rect x="452" y="119.31" width="1" height="322.39" fill="#0000ff"/><rect x="453" y="119.31" width="1" height="29.92" fill="#0000ff"/><rect x="454" y="119.31" width="3" height="322.39" fill="#0000ff"/><rect x="457" y="133.27" width="1" height="29.92" fill="#0000ff"/><rect x="458" y="133.27" width="1" height="308.43" fill="#0000ff"/><rect x="459" y="133.27" width="1" height="15.96" fill="#0000ff"/><rect x="459" y="149.23" width="1" height="292.47" fill="#0000ff" fill-opacity="0.94"/><rect x="460" y="133.27" width="1" height="15.96" fill="#0000ff"/><rect x="460" y="149.23" width="1" height="292.47" fill="#0000ff" fill-opacity="0.74"/><rect x="461" y="147.23" width="1" height="15.96" fill="#0000ff"/><rect x="461" y="163.19" width="1" height="278.51" fill="#0000ff" fill-opacity="0.74"/><rect x="462" y="147.23" width="1" height="15.96" fill="#0000ff"/><rect x="462" y="163.19" width="1" height="278.51" fill="#0000ff" fill-opacity="0.94"/><rect x="463" y="147.23" width="1" height="294.47" fill="#0000ff"/><rect x="464" y="133.27" width="1" height="29.92" fill="#0000ff"/><rect x="465" y="133.27" width="1" height="308.43" fill="#0000ff"/><rect x="466" y="133.27" width="1" height="15.96" fill="#0000ff"/><rect x="466" y="149.23" width="1" height="292.47" fill="#0000ff" fill-opacity="0.94"/><rect x="467" y="133.27" width="1" height="15.96" fill="#0000ff"/><rect x="467" y="149.23" width="1" height="292.47" fill="#0000ff" fill-opacity="0.74"/><rect x="468" y="147.23" width="1" height="15.96" fill="#0000ff"/><rect x="468" y="163.19" width="1" height="278.51" fill="#0000ff" fill-opacity="0.74"/><rect x="469" y="119.31" width="1" height="29.92" fill="#0000ff"/><rect x="469" y="149.23" width="1" height="292.47" fill="#0000ff" fill-opacity="0.94"/><rect x="470" y="119.31" width="1" height="322.39" fill="#0000ff"/><rect x="471" y="119.31" width="1" height="29.92" fill="#0000ff"/><rect x="472" y="119.31" width="1" height="322.39" fill="#0000ff"/><rect x="473" y="119.31" width="1" height="15.96" fill="#0000ff"/><rect x="473" y="135.27" width="1" height="306.43" fill="#0000ff" fill-opacity="0.94"/><rect x="474" y="133.27" width="1" height="15.96" fill="#0000ff"/><rect x="474" y="149.23" width="1" height="292.47" fill="#0000ff" fill-opacity="0.74"/><rect x="475" y="133.27" width="1" height="15.96" fill="#0000ff"/><rect x="475" y="149.23" width="1" height="292.47" fill="#0000ff" fill-opacity="0.74"/><rect x="476" y="133.27" width="1" height="15.96" fill="#0000ff"/><rect x="476" y="149.23" width="1" height="292.47" fill="#0000ff" fill-opacity="0.94"/><rect x="477" y="133.27" width="1" height="308.43" fill="#0000ff"/><rect x="478" y="133.27" width="1" height="29.92" fill="#0000ff"/><rect x="479" y="133.27" width="3" height="308.43" fill="#0000ff"/><rect x="482" y="147.23" width="1" height="29.92" fill="#0000ff"/><rect x="482" y="177.15" width="1" height="264.55" fill="#0000ff" fill-opacity="0.50"/><rect x="483" y="147.23" width="2" height="294.47" fill="#0000ff"/><rect x="485" y="147.23" width="1" height="29.92" fill="#0000ff"/><rect x="485" y="177.15" width="1" height="264.55" fill="#0000ff" fill-opacity="0.50"/><rect x="486" y="147.23" width="1" height="29.92" fill="#0000ff"/><rect x="486" y="177.15" width="1" height="264.55" fill="#0000ff" fill-opacity="0.50"/><rect x="487" y="147.23" width="1" height="294.47" fill="#0000ff"/><rect x="488" y="161.19" width="1" height="280.51" fill="#0000ff"/><rect x="489" y="161.19" width="1" height="29.92" fill="#0000ff"/><rect x="490" y="147.23" width="1" height="294.47" fill="#0000ff"/><rect x="491" y="147.23" width="1" height="15.96" fill="#0000ff"/><rect x="491" y="163.19" width="1" height="278.51" fill="#0000ff" fill-opacity="0.94"/><rect x="492" y="147.23" width="1" height="15.96" fill="#0000ff"/><rect x="492" y="163.19" width="1" height="278.51" fill="#0000ff" fill-opacity="0.74"/><rect x="493" y="161.19" width="1" height="15.96" fill="#0000ff"/><rect x="493" y="177.15" width="1" height="264.55" fill="#0000ff" fill-opacity="0.74"/><rect x="494" y="161.19" width="1" height="15.96" fill="#0000ff"/><rect x="494" y="177.15" width="1" height="264.55" fill="#0000ff" fill-opacity="0.94"/><rect x="495" y="161.19" width="1" height="280.51" fill="#0000ff"/><rect x="496" y="147.23" width="1" height="29.92" fill="#0000ff"/><rect x="497" y="147.23" width="1" height="294.47" fill="#0000ff"/><rect x="498" y="147.23" width="1" height="15.96" fill="#0000ff"/><rect x="498" y="163.19" width="1" height="278.51" fill="#0000ff" fill-opacity="0.94"/><rect x="499" y="147.23" width="1" height="15.96" fill="#0000ff"/><rect x="499" y="163.19" width="1" height="278.51" fill="#0000ff" fill-opacity="0.74"/><rect x="500" y="105.34" width="1" height="43.88" fill="#0000ff"/><rect x="500" y="149.23" width="1" height="292.47" fill="#0000ff" fill-opacity="0.74"/><rect x="501" y="105.34" width="1" height="15.96" fill="#0000ff"/><rect x="501" y="121.31" width="1" height="320.39" fill="#0000ff" fill-opacity="0.94"/><rect x="502" y="105.34" width="1" height="336.36" fill="#0000ff"/><rect x="503" y="105.34" width="1" height="29.92" fill="#0000ff"/><rect x="504" y="91.38" width="1" height="350.32" fill="#0000ff"/><rect x="505" y="91.38" width="1" height="15.96" fill="#0000ff"/><rect x="505" y="107.34" width="1" height="334.36" fill="#0000ff" fill-opacity="0.94"/><rect x="506" y="91.38" width="1" height="15.96" fill="#0000ff"/><rect x="506" y="107.34" width="1" height="334.36" fill="#0000ff" fill-opacity="0.74"/><rect x="507" y="91.38" width="1" height="15.96" fill="#0000ff"/><rect x="507" y="107.34" width="1" height="334.36" fill="#0000ff" fill-opacity="0.74"/><rect x="508" y="91.38" width="1" height="15.96" fill="#0000ff"/><rect x="508" y="107.34" width="1" height="334.36" fill="#0000ff" fill-opacity="0.94"/><rect x="509" y="91.38" width="1" height="350.32" fill="#0000ff"/><rect x="510" y="91.38" width="1" height="29.92" fill="#0000ff"/><rect x="511" y="91.38" width="3" height="350.32" fill="#0000ff"/><rect x="514" y="77.42" width="1" height="29.92" fill="#0000ff"/><rect x="515" y="77.42" width="1" height="364.28" fill="#0000ff"/><rect x="516" y="77.42" width="1" height="15.96" fill="#0000ff"/><rect x="516" y="93.38" width="1" height="348.32" fill="#0000ff" fill-opacity="0.94"/><rect x="517" y="77.42" width="1" height="15.96" fill="#0000ff"/><rect x="517" y="93.38" width="1" height="348.32" fill="#0000ff" fill-opacity="0.74"/><rect x="518" y="63.46" width="1" height="15.96" fill="#0000ff"/><rect x="518" y="79.42" width="1" height="362.28" fill="#0000ff" fill-opacity="0.74"/><rect x="519" y="63.46" width="1" height="15.96" fill="#0000ff"/><rect x="519" y="79.42" width="1" height="362.28" fill="#0000ff" fill-opacity="0.94"/><rect x="520" y="63.46" width="1" height="378.24" fill="#0000ff"/><rect x="521" y="63.46" width="1" height="29.92" fill="#0000ff"/><rect x="522" y="63.46" width="1" height="378.24" fill="#0000ff"/><rect x="523" y="63.46" width="1" height="15.96" fill="#0000ff"/><rect x="523" y="79.42" width="1" height="362.28" fill="#0000ff" fill-opacity="0.94"/><rect x="524" y="63.46" width="1" height="15.96" fill="#0000ff"/><rect x="524" y="79.42" width="1" height="362.28" fill="#0000ff" fill-opacity="0.74"/><rect x="525" y="77.42" width="1" height="15.96" fill="#0000ff"/><rect x="525" y="93.38" width="1" height="348.32" fill="#0000ff" fill-opacity="0.74"/><rect x="526" y="77.42" width="1" height="15.96" fill="#0000ff"/><rect x="526" y="93.38" width="1" height="348.32" fill="#0000ff" fill-opacity="0.94"/><rect x="527" y="77.42" width="1" height="364.28" fill="#0000ff"/><rect x="528" y="49.50" width="1" height="43.88" fill="#0000ff"/><rect x="529" y="49.50" width="1" height="392.20" fill="#0000ff"/><rect x="530" y="49.50" width="1" height="15.96" fill="#0000ff"/><rect x="530" y="65.46" width="1" height="376.24" fill="#0000ff" fill-opacity="0.94"/><rect x="531" y="49.50" width="1" height="15.96" fill="#0000ff"/><rect x="531" y="65.46" width="1" height="376.24" fill="#0000ff" fill-opacity="0.74"/><rect x="532" y="49.50" width="1" height="29.92" fill="#0000ff"/><rect x="532" y="79.42" width="1" height="362.28" fill="#0000ff" fill-opacity="0.74"/><rect x="533" y="77.42" width="1" height="15.96" fill="#0000ff"/><rect x="533" y="93.38" width="1" height="348.32" fill="#0000ff" fill-opacity="0.94"/><rect x="534" y="77.42" width="1" height="364.28" fill="#0000ff"/><rect x="535" y="63.46" width="1" height="29.92" fill="#0000ff"/><rect x="536" y="63.46" width="1" height="378.24" fill="#0000ff"/><rect x="537" y="63.46" width="1" height="15.96" fill="#0000ff"/><rect x="537" y="79.42" width="1" height="362.28" fill="#0000ff" fill-opacity="0.94"/><rect x="538" y="49.50" width="1" height="15.96" fill="#0000ff"/><rect x="538" y="65.46" width="1" height="376.24" fill="#0000ff" fill-opacity="0.74"/><rect x="539" y="49.50" width="1" height="15.96" fill="#0000ff"/><rect x="539" y="65.46" width="1" height="376.24" fill="#0000ff" fill-opacity="0.74"/><rect x="540" y="49.50" width="1" height="15.96" fill="#0000ff"/><rect x="540" y="65.46" width="1" height="376.24" fill="#0000ff" fill-opacity="0.94"/><rect x="541" y="49.50" width="1" height="392.20" fill="#0000ff"/><rect x="542" y="49.50" width="1" height="15.96" fill="#0000ff"/><rect x="543" y="35.54" width="3" height="406.16" fill="#0000ff"/><rect x="546" y="35.54" width="1" height="15.96" fill="#0000ff"/><rect x="547" y="35.54" width="1" height="406.16" fill="#0000ff"/><rect x="548" y="35.54" width="1" height="2.00" fill="#0000ff"/><rect x="548" y="37.54" width="1" height="404.16" fill="#0000ff" fill-opacity="0.94"/><rect x="549" y="35.54" width="1" height="2.00" fill="#0000ff"/><rect x="549" y="37.54" width="1" height="404.16" fill="#0000ff" fill-opacity="0.74"/><rect x="550" y="35.54" width="1" height="2.00" fill="#0000ff"/><rect x="550" y="37.54" width="1" height="404.16" fill="#0000ff" fill-opacity="0.74"/><rect x="551" y="35.54" width="1" height="2.00" fill="#0000ff"/><rect x="551" y="37.54" width="1" height="404.16" fill="#0000ff" fill-opacity="0.94"/><rect x="552" y="35.54" width="1" height="406.16" fill="#0000ff"/><rect x="553" y="35.54" width="1" height="29.92" fill="#0000ff"/><rect x="554" y="35.54" width="1" height="406.16" fill="#0000ff"/><rect x="555" y="35.54" width="1" height="2.00" fill="#0000ff"/><rect x="555" y="37.54" width="1" height="404.16" fill="#0000ff" fill-opacity="0.94"/><rect x="556" y="35.54" width="1" height="2.00" fill="#0000ff"/><rect x="556" y="37.54" width="1" height="404.16" fill="#0000ff" fill-opacity="0.74"/><rect x="557" y="35.54" width="1" height="2.00" fill="#0000ff"/><rect x="557" y="37.54" width="1" height="404.16" fill="#0000ff" fill-opacity="0.74"/><rect x="558" y="35.54" width="1" height="2.00" fill="#0000ff"/><rect x="558" y="37.54" width="1" height="404.16" fill="#0000ff" fill-opacity="0.94"/><rect x="559" y="35.54" width="1" height="406.16" fill="#0000ff"/><rect x="560" y="35.54" width="1" height="2.00" fill="#0000ff"/><rect x="561" y="35.54" width="1" height="406.16" fill="#0000ff"/><rect x="562" y="35.54" width="1" height="2.00" fill="#0000ff"/><rect x="562" y="37.54" width="1" height="404.16" fill="#0000ff" fill-opacity="0.94"/><rect x="563" y="35.54" width="1" height="2.00" fill="#0000ff"/><rect x="563" y="37.54" width="1" height="404.16" fill="#0000ff" fill-opacity="0.74"/><rect x="564" y="35.54" width="2" height="2.00" fill="#0000ff"/></g>
<g stroke="#000" stroke-opacity="0.07" stroke-width="1" stroke-dasharray="2.4 1.6" fill="none"><line x1="49" y1="441.5" x2="568" y2="441.5"/><line x1="49" y1="413.5" x2="568" y2="413.5"/><line x1="49" y1="385.5" x2="568" y2="385.5"/><line x1="49" y1="357.5" x2="568" y2="357.5"/><line x1="49" y1="329.5" x2="568" y2="329.5"/><line x1="49" y1="301.5" x2="568" y2="301.5"/><line x1="49" y1="273.5" x2="568" y2="273.5"/><line x1="49" y1="245.5" x2="568" y2="245.5"/><line x1="49" y1="218.5" x2="568" y2="218.5"/><line x1="49" y1="190.5" x2="568" y2="190.5"/><line x1="49" y1="162.5" x2="568" y2="162.5"/><line x1="49" y1="134.5" x2="568" y2="134.5"/><line x1="49" y1="106.5" x2="568" y2="106.5"/><line x1="49" y1="78.5" x2="568" y2="78.5"/><line x1="49" y1="50.5" x2="568" y2="50.5"/><line x1="52.5" y1="33" x2="52.5" y2="443"/><line x1="180.5" y1="33" x2="180.5" y2="443"/><line x1="308.5" y1="33" x2="308.5" y2="443"/><line x1="437.5" y1="33" x2="437.5" y2="443"/><line x1="565.5" y1="33" x2="565.5" y2="443"/></g>
<g stroke="#b0b0b0" stroke-width="1" fill="none" shape-rendering="crispEdges"><line stroke="#979797" x1="43" y1="441.5" x2="47.5" y2="441.5"/><line x1="45" y1="434.5" x2="48" y2="434.5"/><line x1="45" y1="427.5" x2="48" y2="427.5"/><line x1="45" y1="420.5" x2="48" y2="420.5"/><line stroke="#979797" x1="43" y1="413.5" x2="47.5" y2="413.5"/><line x1="45" y1="406.5" x2="48" y2="406.5"/><line x1="45" y1="399.5" x2="48" y2="399.5"/><line x1="45" y1="392.5" x2="48" y2="392.5"/><line stroke="#979797" x1="43" y1="385.5" x2="47.5" y2="385.5"/><line x1="45" y1="378.5" x2="48" y2="378.5"/><line x1="45" y1="371.5" x2="48" y2="371.5"/><line x1="45" y1="364.5" x2="48" y2="364.5"/><line stroke="#979797" x1="43" y1="357.5" x2="47.5" y2="357.5"/><line x1="45" y1="350.5" x2="48" y2="350.5"/><line x1="45" y1="343.5" x2="48" y2="343.5"/><line x1="45" y1="336.5" x2="48" y2="336.5"/><line stroke="#979797" x1="43" y1="329.5" x2="47.5" y2="329.5"/><line x1="45" y1="322.5" x2="48" y2="322.5"/><line x1="45" y1="315.5" x2="48" y2="315.5"/><line x1="45" y1="308.5" x2="48" y2="308.5"/><line stroke="#979797" x1="43" y1="301.5" x2="47.5" y2="301.5"/><line x1="45" y1="294.5" x2="48" y2="294.5"/><line x1="45" y1="287.5" x2="48" y2="287.5"/><line x1="45" y1="280.5" x2="48" y2="280.5"/><line stroke="#979797" x1="43" y1="273.5" x2="47.5" y2="273.5"/><line x1="45" y1="266.5" x2="48" y2="266.5"/><line x1="45" y1="259.5" x2="48" y2="259.5"/><line x1="45" y1="252.5" x2="48" y2="252.5"/><line stroke="#979797" x1="43" y1="245.5" x2="47.5" y2="245.5"/><line x1="45" y1="238.5" x2="48" y2="238.5"/><line x1="45" y1="231.5" x2="48" y2="231.5"/><line x1="45" y1="225.5" x2="48" y2="225.5"/><line stroke="#979797" x1="43" y1="218.5" x2="47.5" y2="218.5"/><line x1="45" y1="211.5" x2="48" y2="211.5"/><line x1="45" y1="204.5" x2="48" y2="204.5"/><line x1="45" y1="197.5" x2="48" y2="197.5"/><line stroke="#979797" x1="43" y1="190.5" x2="47.5" y2="190.5"/><line x1="45" y1="183.5" x2="48" y2="183.5"/><line x1="45" y1="176.5" x2="48" y2="176.5"/><line x1="45" y1="169.5" x2="48" y2="169.5"/><line stroke="#979797" x1="43" y1="162.5" x2="47.5" y2="162.5"/><line x1="45" y1="155.5" x2="48" y2="155.5"/><line x1="45" y1="148.5" x2="48" y2="148.5"/><line x1="45" y1="141.5" x2="48" y2="141.5"/><line stroke="#979797" x1="43" y1="134.5" x2="47.5" y2="134.5"/><line x1="45" y1="127.5" x2="48" y2="127.5"/><line x1="45" y1="120.5" x2="48" y2="120.5"/><line x1="45" y1="113.5" x2="48" y2="113.5"/><line stroke="#979797" x1="43" y1="106.5" x2="47.5" y2="106.5"/><line x1="45" y1="99.5" x2="48" y2="99.5"/><line x1="45" y1="92.5" x2="48" y2="92.5"/><line x1="45" y1="85.5" x2="48" y2="85.5"/><line stroke="#979797" x1="43" y1="78.5" x2="47.5" y2="78.5"/><line x1="45" y1="71.5" x2="48" y2="71.5"/><line x1="45" y1="64.5" x2="48" y2="64.5"/><line x1="45" y1="57.5" x2="48" y2="57.5"/><line stroke="#979797" x1="43" y1="50.5" x2="47.5" y2="50.5"/><line x1="45" y1="43.5" x2="48" y2="43.5"/><line x1="45" y1="36.5" x2="48" y2="36.5"/><line stroke="#979797" x1="52.5" y1="446" x2="52.5" y2="451"/><line x1="84.5" y1="446" x2="84.5" y2="449"/><line x1="116.5" y1="446" x2="116.5" y2="449"/><line x1="148.5" y1="446" x2="148.5" y2="449"/><line stroke="#979797" x1="180.5" y1="446" x2="180.5" y2="451"/><line x1="212.5" y1="446" x2="212.5" y2="449"/><line x1="244.5" y1="446" x2="244.5" y2="449"/><line x1="276.5" y1="446" x2="276.5" y2="449"/><line stroke="#979797" x1="308.5" y1="446" x2="308.5" y2="451"/><line x1="340.5" y1="446" x2="340.5" y2="449"/><line x1="373.5" y1="446" x2="373.5" y2="449"/><line x1="405.5" y1="446" x2="405.5" y2="449"/><line stroke="#979797" x1="437.5" y1="446" x2="437.5" y2="451"/><line x1="469.5" y1="446" x2="469.5" y2="449"/><line x1="501.5" y1="446" x2="501.5" y2="449"/><line x1="533.5" y1="446" x2="533.5" y2="449"/><line stroke="#979797" x1="565.5" y1="446" x2="565.5" y2="451"/></g>
<path d="M48.6,32.5 L48.6,445.1 L569.5,445.1" fill="none" stroke="#424242" stroke-width="2.2" stroke-linejoin="round"/>
<g><text x="39.6" y="444.6" text-anchor="end">0</text><text x="39.6" y="416.7" text-anchor="end">2</text><text x="39.6" y="388.8" text-anchor="end">4</text><text x="39.6" y="360.9" text-anchor="end">6</text><text x="39.6" y="332.9" text-anchor="end">8</text><text x="39.6" y="305.0" text-anchor="end">10</text><text x="39.6" y="277.1" text-anchor="end">12</text><text x="39.6" y="249.2" text-anchor="end">14</text><text x="39.6" y="221.2" text-anchor="end">16</text><text x="39.6" y="193.3" text-anchor="end">18</text><text x="39.6" y="165.4" text-anchor="end">20</text><text x="39.6" y="137.5" text-anchor="end">22</text><text x="39.6" y="109.5" text-anchor="end">24</text><text x="39.6" y="81.6" text-anchor="end">26</text><text x="39.6" y="53.7" text-anchor="end">28</text><text x="52.6" y="463" text-anchor="middle">04-09-2024 00:00</text><text x="180.9" y="463" text-anchor="middle">04-09-2024 06:00</text><text x="308.6" y="463" text-anchor="middle">04-09-2024 12:00</text><text x="437.0" y="463" text-anchor="middle">04-09-2024 18:00</text><text x="565.3" y="463" text-anchor="middle">05-09-2024 00:00</text><text x="308.4" y="477" text-anchor="middle" style="letter-spacing:0.45px">GPS Time</text></g>
<rect x="600.5" y="60.5" width="328.5" height="15" fill="#000"/>
<rect x="597.5" y="57.5" width="328.5" height="15" fill="#fff" stroke="#7a7a7a" stroke-width="1"/>
<line x1="602.5" y1="65.5" x2="633" y2="65.5" stroke="#0000ff" stroke-width="2" stroke-linecap="round"/>
<text class="lg" x="641.7" y="69" textLength="274.5" lengthAdjust="spacing">rtk engine [femern_vrs]_rri1 Number of satellites</text>
</svg>
</body></html>
